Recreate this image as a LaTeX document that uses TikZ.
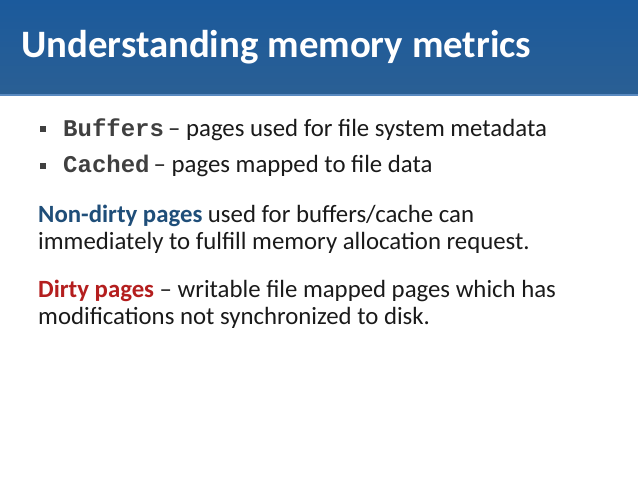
\documentclass[tikz,border=0pt]{standalone}
\usepackage{fontspec}
\setmainfont{Carlito}
\setmonofont{Liberation Mono}
\usetikzlibrary{positioning}
\definecolor{mtop}{HTML}{1B5A9C}
\definecolor{mbottom}{HTML}{2A5F94}
\definecolor{mrule}{HTML}{5A8AC0}
\definecolor{mtext}{HTML}{1A1A1A}
\definecolor{mcode}{HTML}{404040}
\definecolor{mnavy}{HTML}{1F4E79}
\definecolor{mred}{HTML}{B41E1E}
\newcommand{\bodyfont}{\fontsize{24.8}{28}\selectfont}
\newcommand{\code}[1]{{\fontsize{24}{28}\selectfont\ttfamily\bfseries\color{mcode}#1}}
\tikzstyle{line}=[anchor=base west, inner sep=0pt, font=\bodyfont, text=mtext]
\tikzstyle{title}=[anchor=base west, inner sep=0pt, font=\fontsize{38.8}{44}\selectfont\bfseries, text=white]
\tikzstyle{bullet}=[fill=mcode, minimum size=6pt, inner sep=0pt]

\begin{document}
\begin{tikzpicture}[x=1pt, y=-1pt]

    \useasboundingbox[fill=white] (0,0) rectangle (638,479);

    % header bar
    \path[top color=mtop, bottom color=mbottom] (0,0) rectangle (638,94);
    \path[fill=mrule] (0,94) rectangle (638,96);
    \node[title] (head) at (21,57) {Understanding memory metrics};

    % bullets
    \node[bullet] (b1) at (43,129) {};
    \node[bullet] (b2) at (43,166) {};
    \node[line] (l1) at (63,136) {\code{Buffers}\,-- pages used for file system metadata};
    \node[line] (l2) at (63,172) {\code{Cached}\,-- pages mapped to file data};

    % paragraphs
    \node[line] (p1) at (38,222) {{\bfseries\color{mnavy}Non-dirty pages} used for buffers/cache can};
    \node[line] (p2) at (38,249) {immediately to fulfill memory allocation request.};
    \node[line] (p3) at (38,297) {{\bfseries\color{mred}Dirty pages} -- writable file mapped pages which has};
    \node[line] (p4) at (38,324) {modifications not synchronized to disk.};

\end{tikzpicture}
\end{document}
